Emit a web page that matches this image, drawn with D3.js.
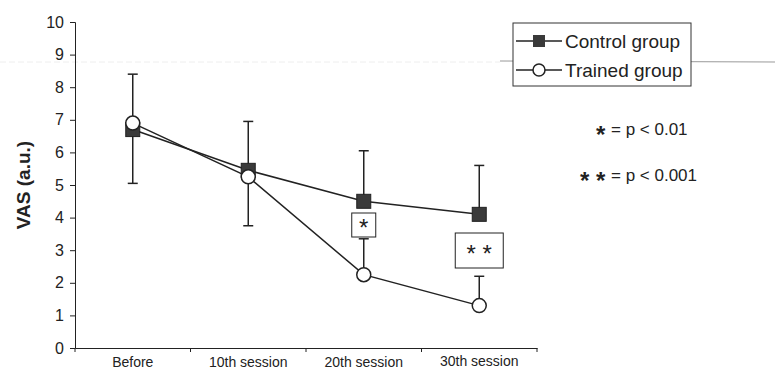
<!DOCTYPE html>
<html>
  <head>
    <meta charset="utf-8">
    <title>VAS</title>
    <script type="text/javascript" src="https://d3js.org/d3.v7.min.js"></script>
    <style>
      body { margin: 0; background: #fff; }
      svg { font-family: Arial, "Liberation Sans", sans-serif; }
    </style>
  </head>
  <body>
    <script type="text/javascript">

      // data
      var sessions = ["Before", "10th session", "20th session", "30th session"];
      var control = [6.7, 5.45, 4.5, 4.1];
      var trained = [6.9, 5.25, 2.25, 1.3];
      // error bars: [lower, upper] per session, null where not drawn
      var controlErr = [[5.05, 8.4], [3.75, 6.95], [4.5, 6.05], [4.1, 5.6]];
      var trainedErr = [null, null, [2.25, 3.35], [1.3, 2.2]];
      var yTicks = [0, 1, 2, 3, 4, 5, 6, 7, 8, 9, 10];
      var sigMarks = ["", "", "*", "* *"];

      var width = 775;
      var height = 371;

      var svg = d3.select("body")
            .append("svg")
            .attr("width", width)
            .attr("height", height);

      var xScale = d3.scaleBand().domain(sessions).range([75, 537]);
      var yScale = d3.scaleLinear().domain([0, 10]).range([348, 22]);
      var cx = function(d, i) { return xScale(sessions[i]) + xScale.bandwidth() / 2; };

      // faint scan lines
      svg.append("line")
        .attr("x1", 500).attr("x2", 775)
        .attr("y1", 61).attr("y2", 62)
        .attr("stroke", "#999").attr("stroke-width", 1);
      svg.append("line")
        .attr("x1", 0).attr("x2", 500)
        .attr("y1", 62).attr("y2", 62)
        .attr("stroke", "#eee").attr("stroke-width", 1)
        .attr("stroke-dasharray", "6,3");

      // y axis
      var y_axis = d3.axisLeft(yScale).tickValues(yTicks).tickSize(5).tickPadding(6);
      var gy = svg.append("g")
        .attr("transform", "translate(75,0)")
        .call(y_axis);
      gy.selectAll("text").style("font-size", "16px").attr("fill", "#222");
      gy.selectAll("line, path").attr("stroke", "#222");

      // x axis
      var x_axis = d3.axisBottom(xScale).tickSize(0).tickFormat("");
      var gx = svg.append("g")
        .attr("transform", "translate(0,348)")
        .call(x_axis);
      gx.select("path").attr("stroke", "#222");
      gx.selectAll(".bound")
        .data(sessions.concat(["end"]))
        .enter().append("line")
        .attr("class", "bound")
        .attr("x1", function(d, i) { return 75 + i * xScale.bandwidth(); })
        .attr("x2", function(d, i) { return 75 + i * xScale.bandwidth(); })
        .attr("y1", 0).attr("y2", 4)
        .attr("stroke", "#222");
      svg.selectAll(".xlab")
        .data(sessions)
        .enter().append("text")
        .attr("class", "xlab")
        .attr("x", cx)
        .attr("y", function(d, i) { return i == 3 ? 366 : 367; })
        .attr("text-anchor", "middle")
        .style("font-size", "14px")
        .attr("fill", "#222")
        .text(function(d) { return d; });

      // y label
      svg.append("text")
        .attr("transform", "translate(30,185) rotate(-90)")
        .attr("text-anchor", "middle")
        .style("font-size", "19px")
        .style("font-weight", "bold")
        .attr("fill", "#222")
        .text("VAS (a.u.)");

      // error bars
      function drawErr(errs, vals) {
        var g = svg.append("g");
        errs.forEach(function(e, i) {
          if (!e) return;
          var x = cx(null, i);
          g.append("line").attr("x1", x).attr("x2", x)
            .attr("y1", yScale(e[0])).attr("y2", yScale(e[1]))
            .attr("stroke", "#222").attr("stroke-width", 1.5);
          g.append("line").attr("x1", x - 5).attr("x2", x + 5)
            .attr("y1", yScale(e[1])).attr("y2", yScale(e[1]))
            .attr("stroke", "#222").attr("stroke-width", 1.5);
          if (e[0] < vals[i] - 0.01) {
            g.append("line").attr("x1", x - 5).attr("x2", x + 5)
              .attr("y1", yScale(e[0])).attr("y2", yScale(e[0]))
              .attr("stroke", "#222").attr("stroke-width", 1.5);
          }
        });
      }
      drawErr(controlErr, control);
      drawErr(trainedErr, trained);

      var line = d3.line()
        .x(cx)
        .y(function(d) { return yScale(d); });

      svg.append("path").datum(control)
        .attr("d", line).attr("fill", "none")
        .attr("stroke", "#222").attr("stroke-width", 1.5);
      svg.append("path").datum(trained)
        .attr("d", line).attr("fill", "none")
        .attr("stroke", "#222").attr("stroke-width", 1.5);

      svg.selectAll(".csq")
        .data(control)
        .enter().append("rect")
        .attr("class", "csq")
        .attr("x", function(d, i) { return cx(d, i) - 7; })
        .attr("y", function(d) { return yScale(d) - 7; })
        .attr("width", 14).attr("height", 14)
        .attr("fill", "#3a3a3a").attr("stroke", "#222");

      svg.selectAll(".tci")
        .data(trained)
        .enter().append("circle")
        .attr("class", "tci")
        .attr("cx", cx)
        .attr("cy", function(d) { return yScale(d); })
        .attr("r", 7)
        .attr("fill", "#fff").attr("stroke", "#222").attr("stroke-width", 1.5);

      // significance boxes
      var sigBoxes = [null, null, {w: 24, h: 24, y: 225}, {w: 48, h: 35, y: 250.5}];
      sigMarks.forEach(function(m, i) {
        if (!m) return;
        var b = sigBoxes[i];
        var x = cx(null, i);
        svg.append("rect")
          .attr("x", x - b.w / 2).attr("y", b.y - b.h / 2)
          .attr("width", b.w).attr("height", b.h)
          .attr("fill", "#fff").attr("stroke", "#222").attr("stroke-width", 1);
        svg.append("text")
          .attr("x", x).attr("y", b.y + 11)
          .attr("text-anchor", "middle")
          .style("font-size", "24px")
          .attr("fill", "#222")
          .text(m);
      });

      // legend
      var legend = svg.append("g").attr("class", "legend");
      legend.append("rect")
        .attr("x", 513).attr("y", 23).attr("width", 178).attr("height", 63)
        .attr("fill", "#fff").attr("stroke", "#333").attr("stroke-width", 1);
      [["Control group", 41], ["Trained group", 70]].forEach(function(d, i) {
        legend.append("line").attr("x1", 516).attr("x2", 562)
          .attr("y1", d[1]).attr("y2", d[1])
          .attr("stroke", "#222").attr("stroke-width", 1.5);
        if (i == 0) {
          legend.append("rect").attr("x", 533).attr("y", d[1] - 6)
            .attr("width", 12).attr("height", 12).attr("fill", "#3a3a3a");
        } else {
          legend.append("circle").attr("cx", 539).attr("cy", d[1]).attr("r", 6)
            .attr("fill", "#fff").attr("stroke", "#222").attr("stroke-width", 1.5);
        }
        legend.append("text").attr("x", 565).attr("y", d[1] + 7)
          .style("font-size", "19px").attr("fill", "#222")
          .text(d[0]);
      });

      // p-value notes
      svg.append("text").attr("x", 596).attr("y", 143)
        .style("font-size", "24px").style("font-weight", "bold")
        .attr("fill", "#222").text("*");
      svg.append("text").attr("x", 611).attr("y", 135)
        .style("font-size", "17px").attr("fill", "#222").text("= p < 0.01");
      svg.append("text").attr("x", 580).attr("y", 189)
        .style("font-size", "24px").style("font-weight", "bold")
        .attr("fill", "#222").text("* *");
      svg.append("text").attr("x", 611).attr("y", 181)
        .style("font-size", "17px").attr("fill", "#222").text("= p < 0.001");

    </script>
  </body>
</html>
